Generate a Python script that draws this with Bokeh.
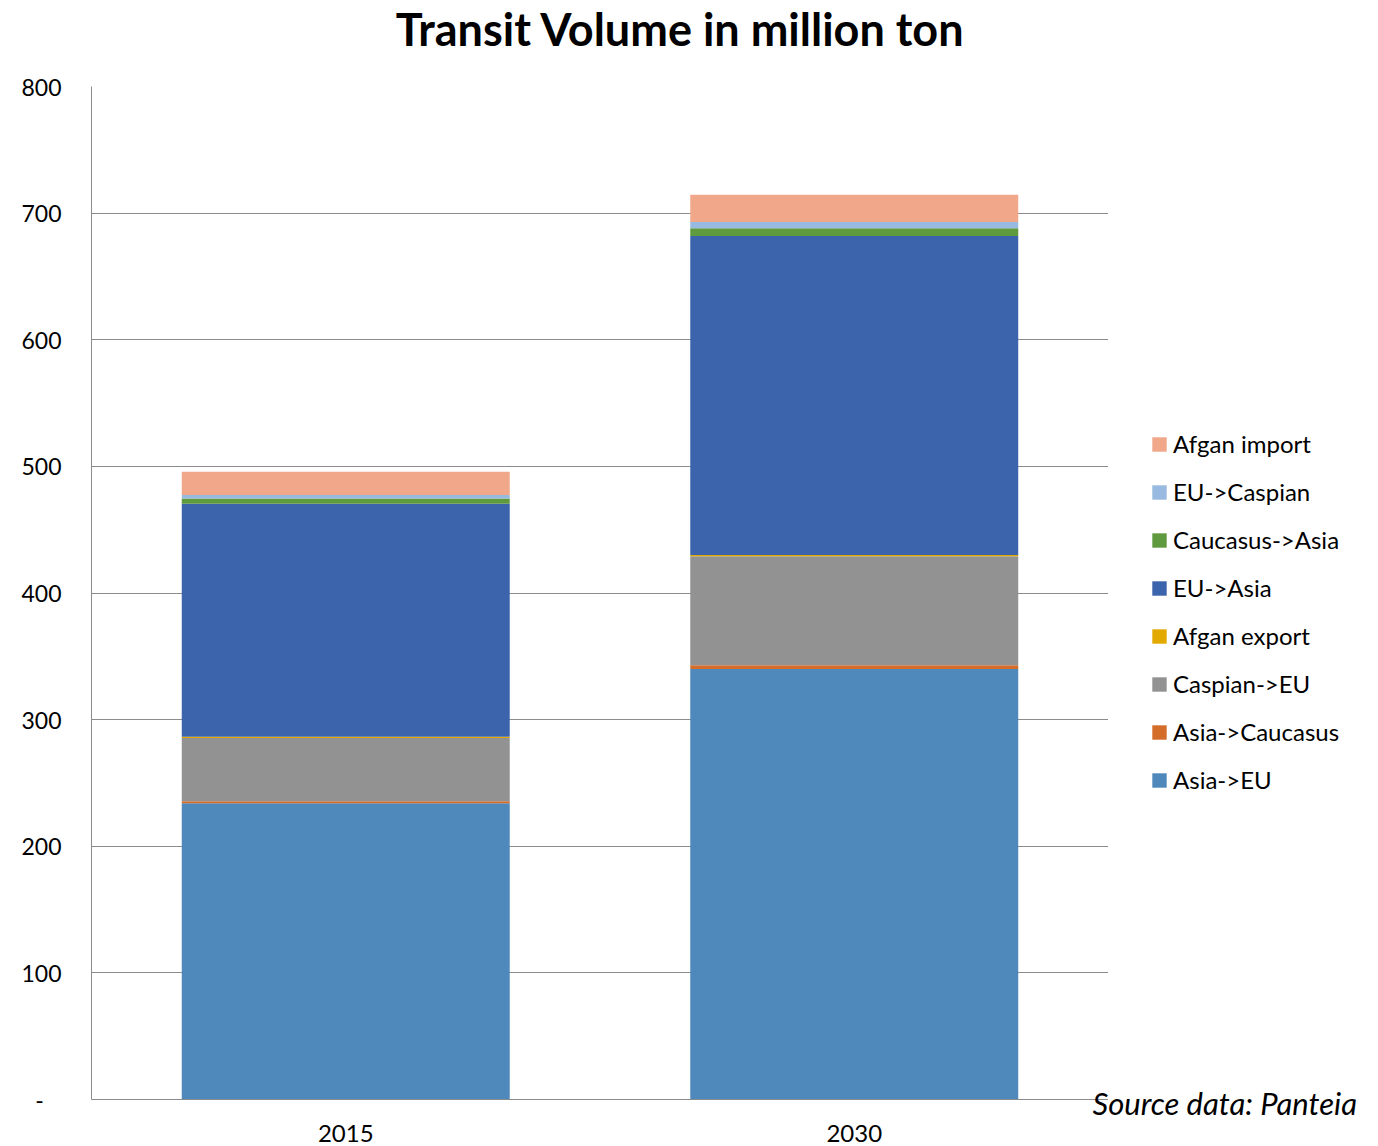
from bokeh.plotting import figure
from bokeh.models import FactorRange, Range1d, FixedTicker, Label, Legend, LegendItem
from bokeh.layouts import row, column
from bokeh.embed import file_html
from bokeh.resources import INLINE

years = ["2015", "2030"]
series = ["Asia->EU", "Asia->Caucasus", "Caspian->EU", "Afgan export",
          "EU->Asia", "Caucasus->Asia", "EU->Caspian", "Afgan import"]
asia_eu = [234, 340]
asia_caucasus = [1.5, 3]
caspian_eu = [50, 86]
afgan_export = [1, 1]
eu_asia = [184, 252]
caucasus_asia = [4.2, 6]
eu_caspian = [2.6, 5]
afgan_import = [18.5, 21.5]
y_ticks = [0, 100, 200, 300, 400, 500, 600, 700, 800]

colors = ["#4F89BC", "#D46D2A", "#929292", "#E2AA00",
          "#3C64AC", "#5F9A3F", "#98B9E0", "#F0A78A"]

data = {"year": years,
        "Asia->EU": asia_eu, "Asia->Caucasus": asia_caucasus,
        "Caspian->EU": caspian_eu, "Afgan export": afgan_export,
        "EU->Asia": eu_asia, "Caucasus->Asia": caucasus_asia,
        "EU->Caspian": eu_caspian, "Afgan import": afgan_import}

FONT = "Lato"

# --- title strip ---
p0 = figure(width=1378, height=60, output_backend="svg", toolbar_location=None,
            x_range=Range1d(0, 1), y_range=Range1d(0, 1),
            x_axis_location=None, y_axis_location=None, title=None,
            min_border_left=0, min_border_right=0, min_border_top=0, min_border_bottom=0)
p0.frame_align = False
p0.outline_line_color = None
p0.grid.visible = False
p0.add_layout(Label(x=680, y=32, x_units="screen", y_units="screen",
                    text="Transit Volume in million ton", text_font=FONT,
                    text_font_style="bold", text_font_size="45px",
                    text_align="center", text_baseline="alphabetic", text_color="black"))

# --- main chart ---
p = figure(x_range=FactorRange(*years), y_range=Range1d(0, 800),
           width=1108, height=1086, output_backend="svg", toolbar_location=None, title=None,
           min_border_left=91, min_border_right=0, min_border_top=26, min_border_bottom=47)
p.outline_line_color = None

p.vbar_stack(series, x="year", width=0.645, source=data, color=colors, line_color=None)

p.yaxis.ticker = FixedTicker(ticks=y_ticks)
p.yaxis.major_label_overrides = {0: "-\u00a0\u00a0\u00a0"}
p.yaxis.major_tick_line_color = None
p.yaxis.major_tick_out = 0
p.yaxis.minor_tick_line_color = None
p.yaxis.axis_line_color = "#8c8c8c"
p.yaxis.major_label_text_font = FONT
p.yaxis.major_label_text_font_size = "23px"
p.yaxis.major_label_text_color = "black"
p.yaxis.major_label_standoff = 30

p.xaxis.major_tick_line_color = None
p.xaxis.major_tick_out = 0
p.xaxis.axis_line_color = "#8c8c8c"
p.xaxis.major_label_text_font = FONT
p.xaxis.major_label_text_font_size = "24px"
p.xaxis.major_label_text_color = "black"
p.xaxis.major_label_standoff = 25

p.xgrid.grid_line_color = None
p.ygrid.grid_line_color = "#8c8c8c"
p.ygrid.grid_line_width = 1

# --- legend / source panel (transparent, overlaps the chart by 16px) ---
p2 = figure(width=286, height=1086, output_backend="svg", toolbar_location=None,
            x_range=Range1d(0, 1), y_range=Range1d(0, 1), title=None,
            x_axis_location=None, y_axis_location=None,
            min_border_left=0, min_border_right=0, min_border_top=0, min_border_bottom=0,
            margin=(0, 0, 0, -16))
p2.frame_align = False
p2.outline_line_color = None
p2.grid.visible = False
p2.background_fill_alpha = 0
p2.border_fill_alpha = 0

items = []
for s, c in zip(series, colors):
    # legend swatches only: placed outside the visible range of this panel
    r = p2.vbar(x=[5], top=[5], bottom=[4], width=0.5, color=c, line_color=None)
    items.append(LegendItem(label=s, renderers=[r]))
items.reverse()
legend = Legend(items=items, location=(58, 352), orientation="vertical",
                label_text_font=FONT, label_text_font_size="24px", label_text_color="black",
                glyph_width=18, glyph_height=18, label_height=18, spacing=19,
                padding=0, margin=0, border_line_color=None, background_fill_alpha=0,
                label_standoff=5)
p2.add_layout(legend, "center")

p2.add_layout(Label(x=0, y=44, x_units="screen", y_units="screen",
                    text="Source data: Panteia", text_font=FONT, text_font_style="italic",
                    text_font_size="31px", text_align="left", text_baseline="alphabetic",
                    text_color="black"))

layout = column(p0, row(p, p2))
open("out.html", "w").write(file_html(layout, INLINE))
